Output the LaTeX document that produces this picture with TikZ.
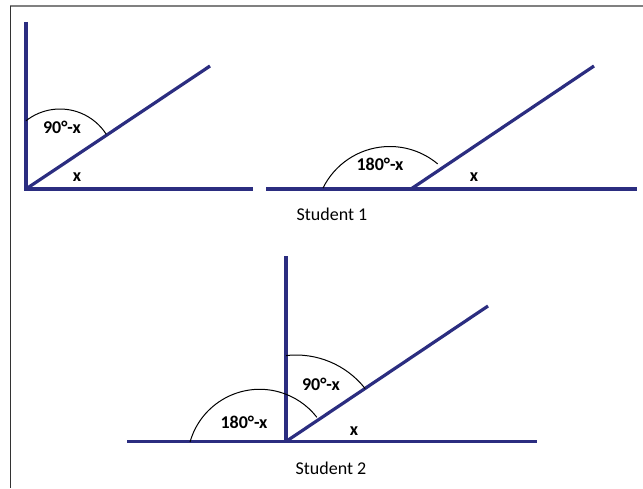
\documentclass[tikz,border=0pt]{standalone}
\usepackage{fontspec}
\setmainfont{Carlito}
\usepackage{tikz}

\definecolor{rayblue}{RGB}{43,45,128}
\tikzset{
  side/.style={rayblue, line width=1.6pt},
  angarc/.style={black, line width=0.5pt},
  anglbl/.style={font=\fontsize{9}{11}\selectfont\bfseries, inner sep=0pt},
  caption/.style={font=\fontsize{9}{11}\selectfont, inner sep=0pt},
}

\begin{document}
\begin{tikzpicture}[x=0.5pt, y=0.5pt]
  \useasboundingbox (0,0) rectangle (643,488);

  % Frame
  \draw[gray, line width=0.65pt] (10,482) -- (643,482);
  \draw[black!80, line width=0.65pt] (10.5,482) -- (10.5,0);

  % Coordinates
  \coordinate (A) at (26,299);
  \coordinate (A1) at (26,466);
  \coordinate (A2) at (253,299);
  \coordinate (A3) at (210,422);

  \coordinate (B) at (411,299);
  \coordinate (B1) at (266,299);
  \coordinate (B2) at (637,299);
  \coordinate (B3) at (594,422);

  \coordinate (C) at (286,46.5);
  \coordinate (C1) at (286,232);
  \coordinate (C2) at (127,46.5);
  \coordinate (C3) at (537,46.5);
  \coordinate (C4) at (488,182);

  % Drawing
  \draw[side] (A1) -- (A) -- (A2);
  \draw[side] (A) -- (A3);
  \draw[angarc] (60,324) ++(128.2:55) arc[start angle=128.2, end angle=32.7, radius=55];

  \draw[side] (B1) -- (B2);
  \draw[side] (B) -- (B3);
  \draw[angarc] (389.8,267) ++(153.8:74.5) arc[start angle=153.8, end angle=50, radius=74.5];

  \draw[side] (C2) -- (C3);
  \draw[side] (C) -- (C1);
  \draw[side] (C) -- (C4);
  \draw[angarc] (296,45) ++(96.5:88) arc[start angle=96.5, end angle=38.2, radius=88];
  \draw[angarc] (259.7,26.3) ++(164.2:72.4) arc[start angle=164.2, end angle=37.9, radius=72.4];

  % Labels
  \node[anglbl] (a90) at (62,361) {90°-x};
  \node[anglbl] (ax) at (77,311) {x};
  \node[anglbl] (b180) at (380,324) {180°-x};
  \node[anglbl] (bx) at (474,311) {x};
  \node[caption] (s1) at (332,274) {Student 1};

  \node[anglbl] (c90) at (321,104) {90°-x};
  \node[anglbl] (c180) at (244,66) {180°-x};
  \node[anglbl] (cx) at (354,57) {x};
  \node[caption] (s2) at (331,20) {Student 2};
\end{tikzpicture}
\end{document}
